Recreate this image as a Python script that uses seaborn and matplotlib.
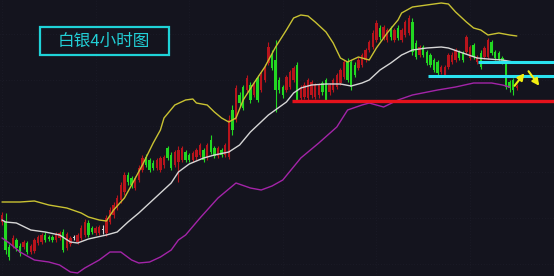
import numpy as np
import pandas as pd
import matplotlib
matplotlib.use("Agg")
import matplotlib.pyplot as plt
from matplotlib.patches import Rectangle, FancyArrowPatch
import seaborn as sns

# ---------------- data (price units) ----------------
opens = [54, 54, 29, 31, 36, 30, 29, 33, 24, 25, 33, 34, 41, 39, 39, 36, 38, 44, 28, 32,
         38, 34, 38, 41, 53, 48, 43, 43, 46, 43, 54, 61, 68, 76, 84, 101, 98, 88, 96, 106,
         119, 116, 113, 108, 106, 111, 128, 121, 111, 114, 116, 124, 121, 116, 119, 121, 126, 118, 136, 128,
         120, 126, 121, 119, 166, 156, 181, 189, 186, 191, 181, 198, 186, 196, 213, 221, 216, 196, 189, 186,
         189, 196, 211, 178, 179, 178, 181, 179, 181, 193, 196, 184, 186, 189, 193, 199, 214, 214, 211, 208,
         211, 216, 226, 229, 236, 248, 238, 236, 248, 236, 248, 236, 241, 243, 254, 233, 221, 229, 224, 221,
         216, 214, 204, 201, 209, 214, 216, 224, 223, 224, 218, 231, 214, 223, 219, 219, 234, 224, 223, 218,
         214, 194, 196, 188]
closes = [61, 26, 19, 38, 28, 23, 34, 24, 30, 36, 39, 41, 36, 37, 36, 42, 43, 26, 42, 38,
          38, 41, 48, 54, 41, 44, 48, 49, 46, 58, 66, 71, 78, 91, 101, 94, 91, 98, 108, 118,
          111, 106, 108, 116, 118, 119, 118, 108, 124, 126, 128, 116, 116, 123, 126, 131, 116, 131, 124, 120,
          128, 121, 131, 156, 146, 188, 173, 168, 198, 176, 191, 176, 201, 209, 229, 208, 186, 186, 181, 199,
          204, 208, 176, 188, 191, 196, 194, 191, 191, 184, 176, 191, 196, 201, 206, 214, 196, 189, 201, 216,
          221, 226, 234, 243, 253, 239, 249, 246, 239, 246, 238, 246, 254, 258, 224, 219, 229, 221, 213, 211,
          206, 203, 209, 209, 221, 221, 226, 218, 216, 239, 229, 219, 219, 209, 228, 236, 223, 218, 216, 214,
          189, 188, 186, 190]
highs = [64, 63, 32, 41, 38, 33, 36, 35, 32, 38, 41, 43, 44, 41, 41, 44, 45, 47, 44, 40,
         41, 43, 51, 57, 56, 50, 50, 51, 51, 61, 69, 74, 81, 94, 104, 104, 100, 100, 111, 121,
         122, 118, 116, 118, 120, 121, 130, 124, 126, 130, 130, 126, 123, 125, 128, 133, 128, 133, 141, 130,
         130, 128, 133, 161, 171, 191, 184, 191, 201, 194, 194, 201, 204, 212, 234, 226, 236, 199, 191, 201,
         206, 210, 214, 191, 194, 198, 196, 193, 193, 195, 198, 193, 198, 203, 208, 216, 218, 216, 214, 219,
         223, 228, 236, 246, 256, 251, 251, 248, 250, 248, 251, 248, 256, 261, 258, 236, 231, 231, 226, 223,
         218, 216, 211, 211, 223, 224, 228, 226, 225, 241, 231, 233, 221, 226, 230, 238, 236, 226, 225, 220,
         216, 196, 198, 192]
lows = [51, 22, 16, 28, 25, 20, 27, 22, 22, 23, 31, 32, 34, 35, 34, 34, 36, 24, 26, 30,
        36, 32, 36, 39, 39, 42, 41, 41, 42, 40, 52, 58, 66, 73, 81, 91, 88, 86, 94, 104,
        109, 104, 106, 106, 104, 108, 116, 106, 109, 94, 114, 114, 114, 114, 116, 119, 114, 116, 122, 118,
        118, 119, 119, 117, 141, 154, 170, 166, 184, 173, 179, 174, 184, 194, 211, 206, 164, 183, 178, 184,
        187, 194, 174, 176, 177, 176, 178, 177, 178, 181, 174, 181, 184, 187, 191, 197, 194, 186, 199, 206,
        209, 214, 224, 227, 234, 236, 236, 234, 236, 234, 236, 234, 239, 241, 221, 217, 219, 219, 211, 209,
        204, 200, 202, 199, 207, 212, 214, 216, 214, 222, 216, 217, 212, 207, 217, 217, 221, 216, 214, 212,
        187, 184, 181, 186]

upper_idx = [0, 5, 9, 13, 18, 22, 24, 27, 29, 31, 34, 36, 39, 42, 44, 45, 48, 51, 53, 54,
             57, 59, 61, 63, 65, 67, 70, 73, 76, 79, 81, 83, 85, 87, 90, 92, 94, 96, 99, 102,
             104, 107, 110, 111, 114, 118, 122, 124, 126, 129, 131, 133, 135, 138, 141, 143]
upper_val = [74, 74, 75, 71, 68, 63, 59, 56, 55, 66, 78, 91, 111, 133, 146, 158, 171, 176, 177, 173,
             171, 164, 158, 154, 158, 176, 193, 209, 229, 246, 258, 261, 260, 254, 244, 233, 218, 214, 219, 216,
             228, 243, 256, 263, 269, 271, 273, 272, 264, 254, 248, 246, 241, 243, 241, 240]

mid_idx = [0, 1, 4, 8, 12, 16, 19, 21, 24, 29, 32, 35, 38, 41, 44, 47, 49, 52, 56, 59,
           63, 66, 69, 74, 79, 81, 83, 86, 90, 94, 97, 100, 102, 105, 108, 111, 114, 118, 122, 124,
           128, 132, 135, 139, 142, 143]
mid_val = [56, 54, 53, 46, 44, 41, 34, 33, 37, 41, 44, 54, 63, 73, 83, 93, 104, 112, 118, 121,
           124, 131, 144, 161, 174, 183, 188, 191, 192, 192, 190, 193, 196, 206, 213, 221, 226, 228, 229, 228,
           223, 218, 217, 216, 214, 214]

lower_idx = [0, 2, 5, 9, 13, 16, 19, 21, 23, 27, 30, 33, 36, 38, 41, 44, 47, 49, 51, 55,
             60, 65, 69, 72, 75, 78, 83, 88, 93, 96, 100, 102, 106, 110, 114, 121, 126, 131, 136, 139,
             141]
lower_val = [38, 33, 24, 16, 14, 11, 4, 3, 8, 16, 24, 24, 16, 13, 14, 19, 26, 36, 41, 58,
             78, 93, 88, 86, 90, 96, 118, 133, 149, 166, 171, 173, 169, 176, 181, 186, 189, 193, 193, 191,
             189]

support_level = 175          # red line
support_start = 80.6
resistance_levels = [200, 214]   # cyan lines
resistance_starts = [118.3, 132.2]
arrow_path = [(141.9, 188), (145.6, 205), (145.8, 207), (149.7, 188)]
title_text = "白银4小时图"

# ---------------- style ----------------
bg = "#14141e"
sns.set_theme(style="dark")
plt.rcParams["font.family"] = ["Noto Sans CJK SC", "DejaVu Sans"]

fig = plt.figure(figsize=(5.54, 2.76), dpi=100, facecolor=bg)
ax = fig.add_axes([0, 0, 1, 1])
ax.set_facecolor(bg)
for s in ax.spines.values():
    s.set_visible(False)
ax.set_xticks([])
ax.set_yticks([])

# faint dotted grid
for gy in np.arange(12, 276, 46):
    ax.axhline(gy, color="#22222f", lw=0.5, ls=(0, (1, 3)), zorder=0)
for gx in np.arange(0, 153, 26):
    ax.axvline(gx, color="#20202e", lw=0.5, ls=(0, (1, 3)), zorder=0)

o = np.array(opens, float)
c = np.array(closes, float)
h = np.array(highs, float)
l = np.array(lows, float)
x = np.arange(len(o))
cols = np.where(c > o, "#b8141c", np.where(c < o, "#22d822", "#d8d8d8"))
body_low = np.minimum(o, c)
body_h = np.maximum(np.abs(c - o), 1.2)

ax.vlines(x, l, h, colors=cols, lw=0.8, zorder=2)
ax.bar(x, body_h, bottom=body_low, width=0.7, color=cols, linewidth=0, zorder=3)

# Bollinger bands via seaborn
bands = pd.concat([
    pd.DataFrame({"i": upper_idx, "v": upper_val, "band": "upper"}),
    pd.DataFrame({"i": mid_idx, "v": mid_val, "band": "mid"}),
    pd.DataFrame({"i": lower_idx, "v": lower_val, "band": "lower"}),
])
sns.lineplot(data=bands, x="i", y="v", hue="band", sort=False, estimator=None,
             palette={"upper": "#c9c232", "mid": "#d6d6d6", "lower": "#a324a8"},
             linewidth=1.0, legend=False, ax=ax, zorder=4)
ax.set_xlabel("")
ax.set_ylabel("")
ax.set_xlim(-2 / 3.6, 552 / 3.6)
ax.set_ylim(0, 276)

# horizontal levels
ax.hlines(support_level, support_start, 153.4, colors="#e5121c", lw=2.4, zorder=5)
for lv, st in zip(resistance_levels, resistance_starts):
    ax.hlines(lv, st, 153.4, colors="#2ae2f0", lw=2.2, zorder=5)

# yellow arrows
for a, b in [(arrow_path[0], arrow_path[1]), (arrow_path[2], arrow_path[3])]:
    ax.add_patch(FancyArrowPatch(a, b, arrowstyle="-|>", mutation_scale=10,
                                 color="#f2ee10", lw=1.5, zorder=6))

# title box
ax.add_patch(Rectangle((40 / 554, 1 - 55 / 276), 129 / 554, 28 / 276, transform=ax.transAxes,
                       fill=False, edgecolor="#1fd3d8", lw=1.6, zorder=7))
ax.text(104 / 554, 1 - 41.5 / 276, title_text, transform=ax.transAxes, ha="center", va="center",
        color="#22cfd6", fontsize=12, zorder=7)

fig.savefig("out.png", dpi=100, facecolor=bg)
